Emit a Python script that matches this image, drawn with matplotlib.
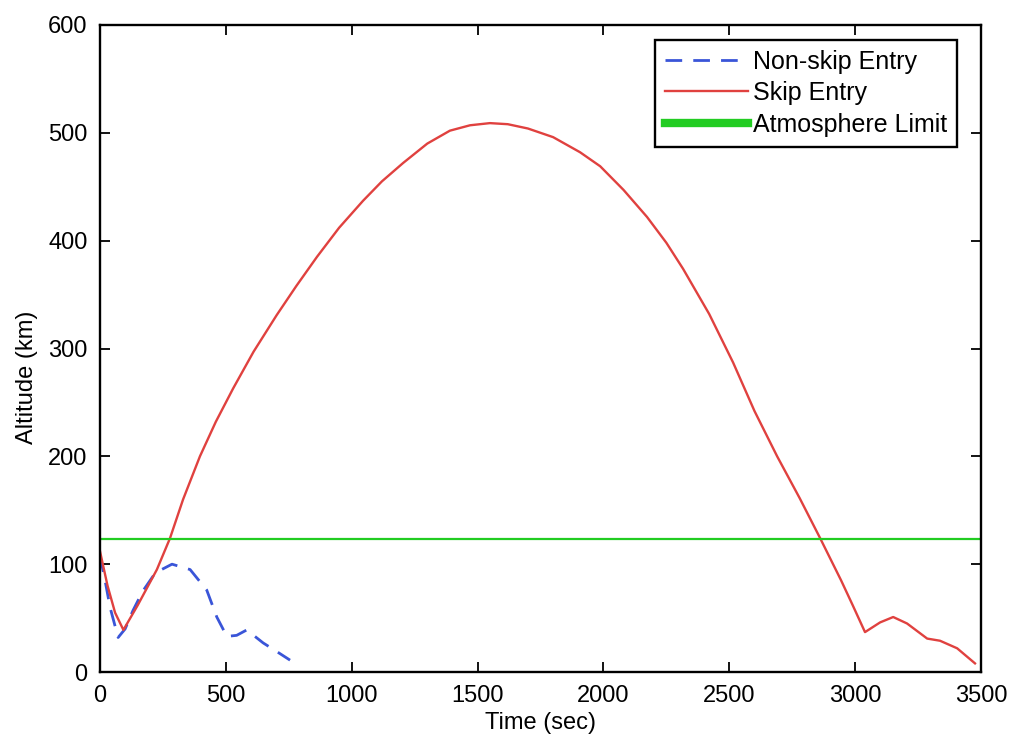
import matplotlib
matplotlib.use("Agg")
import matplotlib.pyplot as plt
from matplotlib.lines import Line2D

# values
T_NONSKIP = [0, 20, 40, 72, 100, 131, 170, 220, 286, 358, 424, 464, 504, 543,
             583, 648, 702, 755]
H_NONSKIP = [108, 85, 60, 32, 40, 57, 75, 92, 100, 95, 76, 51, 33, 34,
             39, 27, 19, 11]

T_SKIP = [0, 30, 60, 93, 150, 226, 278, 330, 397, 460, 529, 610, 702, 780,
          862, 950, 1045, 1120, 1204, 1300, 1390, 1470, 1549, 1620, 1700, 1800,
          1907, 1987, 2080, 2173, 2250, 2316, 2420, 2515, 2600, 2690, 2780,
          2861, 2944, 2990, 3039, 3099, 3151, 3206, 3286, 3337, 3405, 3476]
H_SKIP = [112, 80, 55, 39, 62, 95, 124, 160, 200, 232, 263, 297, 331, 358,
          385, 412, 437, 455, 472, 490, 502, 507, 509, 508, 504, 496,
          482, 469, 447, 422, 398, 374, 332, 287, 242, 200, 161,
          124, 85, 62, 37, 46, 51, 45, 31, 29, 22, 8]

ATMOS_LIMIT = 123
X_RANGE = [0, 3500]

BLUE, RED, GREEN = "#3a55d8", "#e0413f", "#22cc22"
plt.rcParams.update({"font.family": ["Liberation Sans", "DejaVu Sans"], "font.size": 17})

fig = plt.figure(figsize=(10.09, 7.35), dpi=100)
ax = fig.add_axes([0.0991, 0.0857, 0.8732, 0.8803])

ax.plot(T_NONSKIP, H_NONSKIP, color=BLUE, lw=2.0, ls=(0, (6, 4)))
ax.plot(T_SKIP, H_SKIP, color=RED, lw=1.7)
ax.plot(X_RANGE, [ATMOS_LIMIT, ATMOS_LIMIT], color=GREEN, lw=1.6)

ax.set_xlim(X_RANGE)
ax.set_ylim(0, 600)
ax.set_xticks(range(0, 3501, 500))
ax.set_yticks(range(0, 601, 100))
ax.tick_params(direction="in", top=True, right=True, length=7, width=1.3,
               labelsize=17, pad=9)
for s in ax.spines.values():
    s.set_linewidth(1.7)
ax.set_xlabel("Time (sec)", fontsize=17, labelpad=4)
ax.set_ylabel("Altitude (km)", fontsize=17)
ax.yaxis.set_label_coords(-0.07, 0.455)

handles = [Line2D([], [], color=BLUE, lw=2.0, ls=(0, (6, 4))),
           Line2D([], [], color=RED, lw=1.7),
           Line2D([], [], color=GREEN, lw=6)]
leg = ax.legend(handles, ["Non-skip Entry", "Skip Entry", "Atmosphere Limit"],
                loc="upper right", bbox_to_anchor=(0.9785, 0.985), fontsize=18,
                handlelength=3.3, handletextpad=0.2, labelspacing=0.3,
                fancybox=False, framealpha=1, borderpad=0.4, borderaxespad=0.2)
leg.get_frame().set_edgecolor("black")
leg.get_frame().set_linewidth(1.7)

fig.savefig("out.png", dpi=100)
